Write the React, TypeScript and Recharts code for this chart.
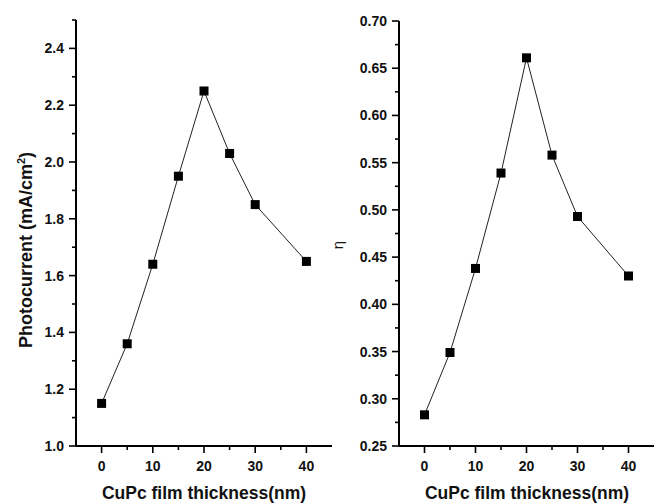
import React from "react";
import { LineChart, Line, XAxis, YAxis, Label } from "recharts";

const thickness = [0, 5, 10, 15, 20, 25, 30, 40];
const photocurrent = [1.15, 1.36, 1.64, 1.95, 2.25, 2.03, 1.85, 1.65];
const efficiency = [0.283, 0.349, 0.438, 0.539, 0.661, 0.558, 0.493, 0.43];

const xMajorTicks = [0, 10, 20, 30, 40];
const xMinorTicks = [5, 15, 25, 35];
const leftMajorTicks = [1.0, 1.2, 1.4, 1.6, 1.8, 2.0, 2.2, 2.4];
const leftMinorTicks = [1.1, 1.3, 1.5, 1.7, 1.9, 2.1, 2.3, 2.5];
const rightMajorTicks = [0.25, 0.3, 0.35, 0.4, 0.45, 0.5, 0.55, 0.6, 0.65, 0.7];
const rightMinorTicks = [0.275, 0.325, 0.375, 0.425, 0.475, 0.525, 0.575, 0.625, 0.675];

const xTitle = "CuPc film thickness(nm)";

const leftData = thickness.map((t, i) => ({ t, v: photocurrent[i] }));
const rightData = thickness.map((t, i) => ({ t, v: efficiency[i] }));

const FONT = "'Liberation Sans', Arial, Helvetica, sans-serif";

const isIn = (arr: number[], v: number) => arr.some((a) => Math.abs(a - v) < 1e-6);

const makeYTick = (major: number[], digits: number) => (props: any) => {
  const { x, y, payload } = props;
  const isMajor = isIn(major, payload.value);
  return (
    <g>
      <line x1={x} y1={y} x2={x - (isMajor ? 7 : 4)} y2={y} stroke="#000" strokeWidth={1.6} />
      {isMajor && (
        <text
          x={x - 12}
          y={y}
          dy={5}
          textAnchor="end"
          fontFamily={FONT}
          fontWeight="bold"
          fontSize={14}
          fill="#111"
        >
          {Number(payload.value).toFixed(digits)}
        </text>
      )}
    </g>
  );
};

const XTick = (props: any) => {
  const { x, y, payload } = props;
  const isMajor = isIn(xMajorTicks, payload.value);
  return (
    <g>
      <line x1={x} y1={y} x2={x} y2={y + (isMajor ? 7 : 4)} stroke="#000" strokeWidth={1.6} />
      {isMajor && (
        <text
          x={x}
          y={y + 25}
          textAnchor="middle"
          fontFamily={FONT}
          fontWeight="bold"
          fontSize={14}
          fill="#111"
        >
          {payload.value}
        </text>
      )}
    </g>
  );
};

const Square = (props: any) => {
  const { cx, cy, index } = props;
  if (cx == null || cy == null) return <g key={index} />;
  return <rect key={index} x={cx - 4.5} y={cy - 4.5} width={9} height={9} fill="#000" />;
};

const XTitle = (props: any) => {
  const vb = props.viewBox || { x: 0, y: 0 };
  return (
    <text
      x={vb.x + 128}
      y={vb.y + 53}
      textAnchor="middle"
      fontFamily={FONT}
      fontWeight="bold"
      fontSize={17.5}
      fill="#111"
    >
      {xTitle}
    </text>
  );
};

const LeftYTitle = () => (
  <text
    x={32}
    y={250}
    transform="rotate(-90, 32, 250)"
    textAnchor="middle"
    fontFamily={FONT}
    fontWeight="bold"
    fontSize={18}
    fill="#111"
  >
    Photocurrent (mA/cm
    <tspan dy={-7} fontSize={11}>
      2
    </tspan>
    <tspan dy={7}>)</tspan>
  </text>
);

const RightYTitle = () => (
  <text
    x={23}
    y={245}
    transform="rotate(-90, 23, 245)"
    textAnchor="middle"
    fontFamily={FONT}
    fontSize={15}
    fill="#111"
  >
    η
  </text>
);

const axisLine = { stroke: "#000", strokeWidth: 2 };

export default function App() {
  return (
    <div style={{ position: "absolute", left: 0, top: 0, width: 654, height: 503, background: "#fff" }}>
      <div style={{ position: "absolute", left: 0, top: 0 }}>
        <LineChart width={340} height={503} data={leftData} margin={{ top: 20, right: 8, bottom: 7, left: 16 }}>
          <XAxis
            dataKey="t"
            type="number"
            domain={[-5, 45]}
            ticks={[...xMajorTicks, ...xMinorTicks].sort((a, b) => a - b)}
            tick={XTick}
            tickSize={0}
            tickMargin={0}
            tickLine={false}
            axisLine={axisLine}
            height={50}
            interval={0}
            allowDataOverflow
          >
            <Label content={XTitle} />
          </XAxis>
          <YAxis
            type="number"
            domain={[1.0, 2.5]}
            ticks={[...leftMajorTicks, ...leftMinorTicks].sort((a, b) => a - b)}
            tick={makeYTick(leftMajorTicks, 1)}
            tickSize={0}
            tickMargin={0}
            tickLine={false}
            axisLine={axisLine}
            width={60}
            interval={0}
            allowDataOverflow
          >
            <Label content={LeftYTitle} />
          </YAxis>
          <Line
            dataKey="v"
            stroke="#222"
            strokeWidth={1}
            type="linear"
            dot={Square}
            activeDot={false}
            isAnimationActive={false}
          />
        </LineChart>
      </div>
      <div style={{ position: "absolute", left: 320, top: 0 }}>
        <LineChart width={334} height={503} data={rightData} margin={{ top: 21, right: 0, bottom: 7, left: 20 }}>
          <XAxis
            dataKey="t"
            type="number"
            domain={[-5, 45]}
            ticks={[...xMajorTicks, ...xMinorTicks].sort((a, b) => a - b)}
            tick={XTick}
            tickSize={0}
            tickMargin={0}
            tickLine={false}
            axisLine={axisLine}
            height={50}
            interval={0}
            allowDataOverflow
          >
            <Label content={XTitle} />
          </XAxis>
          <YAxis
            type="number"
            domain={[0.25, 0.7]}
            ticks={[...rightMajorTicks, ...rightMinorTicks].sort((a, b) => a - b)}
            tick={makeYTick(rightMajorTicks, 2)}
            tickSize={0}
            tickMargin={0}
            tickLine={false}
            axisLine={axisLine}
            width={59}
            interval={0}
            allowDataOverflow
          >
            <Label content={RightYTitle} />
          </YAxis>
          <Line
            dataKey="v"
            stroke="#222"
            strokeWidth={1}
            type="linear"
            dot={Square}
            activeDot={false}
            isAnimationActive={false}
          />
        </LineChart>
      </div>
    </div>
  );
}
